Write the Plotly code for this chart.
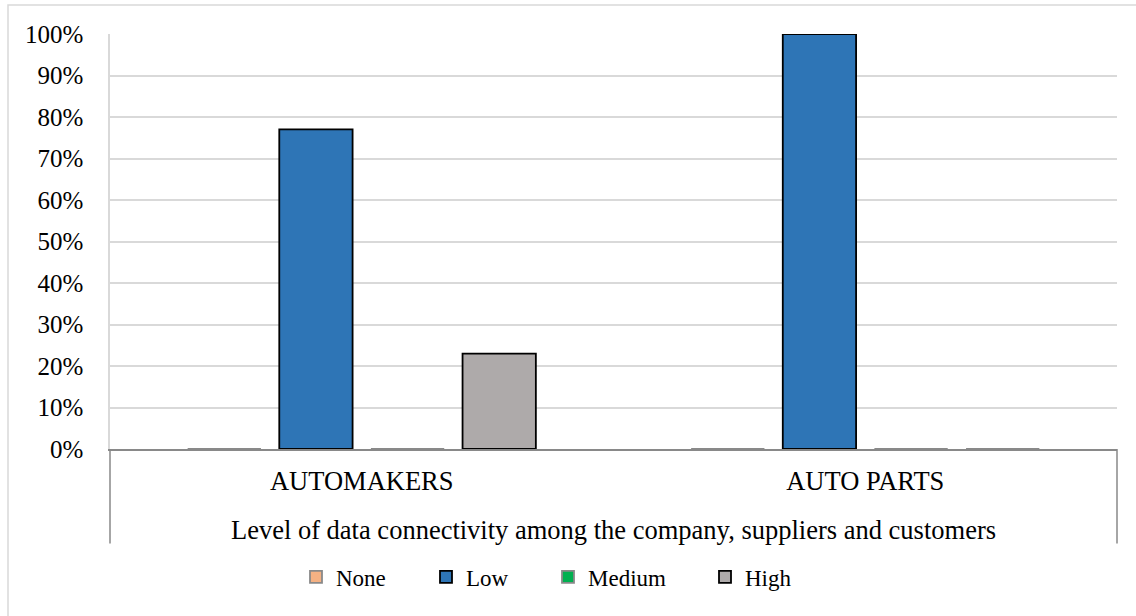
import plotly.graph_objects as go

categories = ["AUTOMAKERS", "AUTO PARTS"]
series_names = ["None", "Low", "Medium", "High"]
none_vals = [0.0, 0.0]
low_vals = [0.77, 1.00]
medium_vals = [0.0, 0.0]
high_vals = [0.23, 0.0]
tick_vals = [0, 0.1, 0.2, 0.3, 0.4, 0.5, 0.6, 0.7, 0.8, 0.9, 1.0]
x_title = "Level of data connectivity among the company, suppliers and customers"

colors = ["#F4B183", "#2E75B6", "#00B050", "#AEAAAA"]
line_colors = ["#7F7F7F", "#000000", "#7F7F7F", "#000000"]
legend_widths = [85, 77, 112, 50]
values = [none_vals, low_vals, medium_vals, high_vals]

FONT = "Liberation Serif"
AXIS_GRAY = "#898989"

fig = go.Figure()
for name, vals, c, lc, lw in zip(series_names, values, colors, line_colors, legend_widths):
    per_point_lc = [lc if v > 0 else AXIS_GRAY for v in vals]
    fig.add_trace(go.Bar(
        x=categories, y=vals, name=name,
        marker=dict(color=c, line=dict(color=per_point_lc, width=1.8)),
        legendwidth=lw,
    ))

W, H = 1136, 616
L, R, T, B = 110, 19, 34, 166.5
ph = H - T - B
pw = W - L - R
box_bottom = -(544 - (H - B)) / ph

fig.update_layout(
    width=W, height=H,
    margin=dict(l=L, r=R, t=T, b=B, pad=0),
    paper_bgcolor="white", plot_bgcolor="white",
    barmode="group", bargap=0.272, bargroupgap=0.2,
    font=dict(family=FONT, size=25, color="#000000"),
    showlegend=True,
    legend=dict(
        orientation="h", xref="container", yref="container",
        x=296 / W, y=1 - 577 / H, xanchor="left", yanchor="middle",
        font=dict(family=FONT, size=23, color="#000000"),
        traceorder="normal", itemwidth=30, bgcolor="rgba(0,0,0,0)",
    ),
    xaxis=dict(
        type="category", showgrid=False,
        showline=True, linecolor=AXIS_GRAY, linewidth=1.5,
        ticks="", ticklabelstandoff=7,
        tickfont=dict(family=FONT, size=26.5, color="#000000"),
        title=dict(text=x_title, standoff=26,
                   font=dict(family=FONT, size=26.5, color="#000000")),
    ),
    yaxis=dict(
        range=[0, 1], tickvals=tick_vals, tickformat=".0%",
        showgrid=True, gridcolor="#D9D9D9", gridwidth=1.5,
        showline=True, linecolor="#D9D9D9", linewidth=1.5,
        zeroline=False, ticks="", ticklabelstandoff=20,
        tickfont=dict(family=FONT, size=25, color="#000000"),
    ),
    shapes=[
        dict(type="line", xref="paper", yref="paper", x0=0, x1=0, y0=0, y1=box_bottom,
             line=dict(color=AXIS_GRAY, width=1.5)),
        dict(type="line", xref="paper", yref="paper", x0=1, x1=1, y0=0, y1=box_bottom,
             line=dict(color=AXIS_GRAY, width=1.5)),
        dict(type="rect", xref="paper", yref="paper",
             x0=(8 - L) / pw, x1=1.2, y0=-0.6, y1=((H - B) - 5) / ph,
             line=dict(color="#D9D9D9", width=1.5), layer="below"),
    ],
)

fig.write_html("out.html")
